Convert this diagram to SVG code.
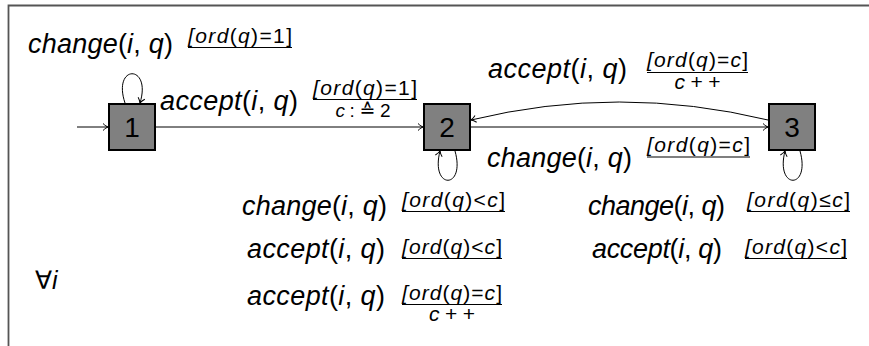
<svg xmlns="http://www.w3.org/2000/svg" width="869" height="346" viewBox="0 0 869 346">
<defs>
<style>
.lbl{font-family:"Liberation Sans",Arial,"DejaVu Sans",sans-serif;font-size:27px;font-style:italic;fill:#000}
.sm{font-family:"Liberation Sans",Arial,"DejaVu Sans",sans-serif;font-size:21px;font-style:italic;fill:#000}
.dn{text-anchor:middle}
.up{font-style:normal}
.num{font-family:"Liberation Sans",Arial,sans-serif;font-size:28px;fill:#000;text-anchor:middle}
.box{fill:#808080;stroke:#000;stroke-width:2}
.edge{fill:none;stroke:#000;stroke-width:1}
.frac{stroke:#000;stroke-width:1.2}
.frame{stroke:#555;stroke-width:1.8;fill:none}
</style>
<marker id="arr" viewBox="-6 -5 7 10" refX="0" refY="0" markerWidth="7" markerHeight="10" markerUnits="userSpaceOnUse" orient="auto">
<path d="M-5,-3.5 C-3,-1.5 -1,-0.4 0,0 C-1,0.4 -3,1.5 -5,3.5" fill="none" stroke="#000" stroke-width="1"/>
</marker>
</defs>
<rect x="0" y="0" width="869" height="346" fill="#fff"/>
<path class="frame" d="M8.5,346 V5.5 H869"/>

<g id="connectors">
<path class="edge" d="M77,127 H108" marker-end="url(#arr)"/>
<path class="edge" d="M156,127 H423" marker-end="url(#arr)"/>
<path class="edge" d="M471,127 H768" marker-end="url(#arr)"/>
<path class="edge" d="M768,120 Q619,84 471,120" marker-end="url(#arr)"/>
<path class="edge" d="M125,103 C112,64 152,64 140,103" marker-end="url(#arr)"/>
<path class="edge" d="M455,151 C466,190 430,190 440,151" marker-end="url(#arr)"/>
<path class="edge" d="M800,151 C811,190 775,190 785,151" marker-end="url(#arr)"/>
</g>

<g id="node1"><rect class="box" x="109" y="104" width="46" height="46"/><text class="num" x="132" y="137">1</text></g>
<g id="node2"><rect class="box" x="424" y="104" width="46" height="46"/><text class="num" x="447" y="137">2</text></g>
<g id="node3"><rect class="box" x="769" y="104" width="46" height="46"/><text class="num" x="792" y="137">3</text></g>

<g id="labels">
<!-- loop on 1 -->
<text class="lbl" x="28" y="53" textLength="145">change<tspan class="up">(</tspan>i<tspan class="up">, </tspan>q<tspan class="up">)</tspan></text>
<text class="sm" x="188" y="42.5" textLength="104">[ord<tspan class="up">(</tspan>q<tspan class="up">)=1]</tspan></text>
<line class="frac" x1="188" y1="47.5" x2="292" y2="47.5"/>

<!-- 1 -> 2 -->
<text class="lbl" x="160" y="110" textLength="138">accept<tspan class="up">(</tspan>i<tspan class="up">, </tspan>q<tspan class="up">)</tspan></text>
<text class="sm" x="313" y="94.5" textLength="104">[ord<tspan class="up">(</tspan>q<tspan class="up">)=1]</tspan></text>
<line class="frac" x1="313" y1="99.5" x2="417" y2="99.5"/>
<text class="sm dn" x="363" y="117" textLength="55" style="font-size:19px">c<tspan class="up">:≙2</tspan></text>

<!-- 3 -> 2 -->
<text class="lbl" x="488" y="78" textLength="139">accept<tspan class="up">(</tspan>i<tspan class="up">, </tspan>q<tspan class="up">)</tspan></text>
<text class="sm" x="647" y="67" textLength="101">[ord<tspan class="up">(</tspan>q<tspan class="up">)=</tspan>c<tspan class="up">]</tspan></text>
<line class="frac" x1="647" y1="72.5" x2="748" y2="72.5"/>
<text class="sm dn" x="697.5" y="89" textLength="46">c<tspan class="up">++</tspan></text>

<!-- 2 -> 3 -->
<text class="lbl" x="487" y="167" textLength="145">change<tspan class="up">(</tspan>i<tspan class="up">, </tspan>q<tspan class="up">)</tspan></text>
<text class="sm" x="647" y="152" textLength="103">[ord<tspan class="up">(</tspan>q<tspan class="up">)=</tspan>c<tspan class="up">]</tspan></text>
<line class="frac" x1="647" y1="157" x2="750" y2="157"/>

<!-- loop on 2 -->
<text class="lbl" x="242" y="215" textLength="145">change<tspan class="up">(</tspan>i<tspan class="up">, </tspan>q<tspan class="up">)</tspan></text>
<text class="sm" x="402" y="206.5" textLength="103">[ord<tspan class="up">(</tspan>q<tspan class="up">)&lt;</tspan>c<tspan class="up">]</tspan></text>
<line class="frac" x1="402" y1="211.5" x2="505" y2="211.5"/>

<text class="lbl" x="247" y="258" textLength="138">accept<tspan class="up">(</tspan>i<tspan class="up">, </tspan>q<tspan class="up">)</tspan></text>
<text class="sm" x="402" y="253.5" textLength="100">[ord<tspan class="up">(</tspan>q<tspan class="up">)&lt;</tspan>c<tspan class="up">]</tspan></text>
<line class="frac" x1="402" y1="258.5" x2="502" y2="258.5"/>

<text class="lbl" x="247" y="305" textLength="138">accept<tspan class="up">(</tspan>i<tspan class="up">, </tspan>q<tspan class="up">)</tspan></text>
<text class="sm" x="402" y="299.5" textLength="100">[ord<tspan class="up">(</tspan>q<tspan class="up">)=</tspan>c<tspan class="up">]</tspan></text>
<line class="frac" x1="402" y1="304.5" x2="502" y2="304.5"/>
<text class="sm dn" x="452" y="321" textLength="46">c<tspan class="up">++</tspan></text>

<!-- loop on 3 -->
<text class="lbl" x="588" y="215" textLength="137">change<tspan class="up">(</tspan>i<tspan class="up">, </tspan>q<tspan class="up">)</tspan></text>
<text class="sm" x="747" y="206.5" textLength="103">[ord<tspan class="up">(</tspan>q<tspan class="up">)≤</tspan>c<tspan class="up">]</tspan></text>
<line class="frac" x1="747" y1="211.5" x2="850" y2="211.5"/>

<text class="lbl" x="592" y="258" textLength="130">accept<tspan class="up">(</tspan>i<tspan class="up">, </tspan>q<tspan class="up">)</tspan></text>
<text class="sm" x="745" y="253.5" textLength="102">[ord<tspan class="up">(</tspan>q<tspan class="up">)&lt;</tspan>c<tspan class="up">]</tspan></text>
<line class="frac" x1="745" y1="258.5" x2="847" y2="258.5"/>

<text class="lbl" x="35" y="289" style="font-size:25px"><tspan class="up">∀</tspan>i</text>
</g>
</svg>
